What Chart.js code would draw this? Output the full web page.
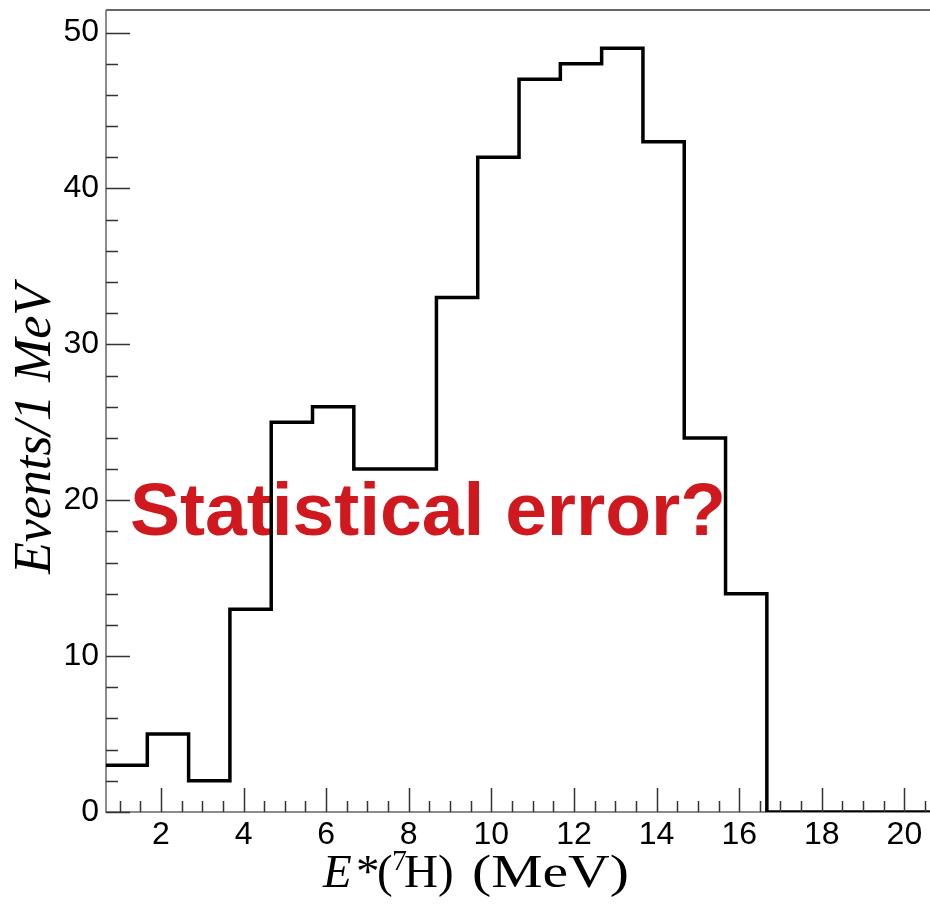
<!DOCTYPE html>
<html>
<head>
<meta charset="utf-8">
<title>E*(7H) spectrum</title>
<script src="https://cdn.jsdelivr.net/npm/chart.js@4.4.1/dist/chart.umd.min.js"></script>
<style>
  html, body { margin: 0; padding: 0; background: #fff; overflow: hidden; }
</style>
</head>
<body>
<canvas id="hist" width="930" height="905"></canvas>
<script>
// bin edges in MeV (1 MeV bins) and event counts per bin
const binEdges = [0.67, 1.67, 2.67, 3.67, 4.67, 5.67, 6.67, 7.67, 8.67, 9.67, 10.67,
                  11.67, 12.67, 13.67, 14.67, 15.67, 16.67, 17.67, 18.67, 19.67, 20.67];
const counts = [3, 5, 2, 13, 25, 26, 22, 22, 33, 42, 47, 48, 49, 43, 24, 14, 0, 0, 0, 0];
const xTickLabels = [2, 4, 6, 8, 10, 12, 14, 16, 18, 20];
const yTickLabels = [0, 10, 20, 30, 40, 50];

const xMin = 0.67, xMax = 20.62;
const yMax = 51.45;

// step points: each bin edge carries the count of the bin starting there
const stepPoints = binEdges.map((e, i) => ({
  x: e,
  y: i < counts.length ? counts[i] : counts[counts.length - 1]
}));

const AXIS_COLOR = '#666';
const TICK_COLOR = '#333';
const SERIF = '"Liberation Serif", "Times New Roman", serif';

// ROOT-like frame: ticks drawn inside the frame, titles in latex-ish fonts
const rootFrame = {
  id: 'rootFrame',
  beforeDatasetsDraw(chart) {
    const ctx = chart.ctx;
    const a = chart.chartArea;
    ctx.save();

    // frame lines (left, bottom, top) under the histogram
    ctx.strokeStyle = AXIS_COLOR;
    ctx.lineWidth = 1.5;
    ctx.beginPath();
    ctx.moveTo(a.left, a.top);
    ctx.lineTo(a.left, a.bottom);
    ctx.lineTo(a.right, a.bottom);
    ctx.stroke();
    ctx.lineWidth = 2;
    ctx.beginPath();
    ctx.moveTo(a.left, a.top);
    ctx.lineTo(a.right, a.top);
    ctx.stroke();

    ctx.font = 'bold 75px "Liberation Sans", Arial, sans-serif';
    ctx.fillStyle = '#d0191f';
    ctx.textAlign = 'left';
    ctx.textBaseline = 'alphabetic';
    ctx.fillText('Statistical error?', 130, 535);
    ctx.restore();
  },
  afterDraw(chart) {
    const ctx = chart.ctx;
    const a = chart.chartArea;
    const xs = chart.scales.x, ys = chart.scales.y;
    ctx.save();

    // x ticks: major every 2, minor every 0.5
    ctx.strokeStyle = TICK_COLOR;
    ctx.lineWidth = 1.5;
    ctx.beginPath();
    for (let v = 0.5; v <= xMax; v += 0.5) {
      if (v < xMin) continue;
      const px = Math.round(xs.getPixelForValue(v)) + 0.5;
      const len = (v % 2 === 0) ? 24 : 11;
      ctx.moveTo(px, a.bottom);
      ctx.lineTo(px, a.bottom - len);
    }
    // y ticks: major every 10, minor every 2
    for (let v = 0; v <= yMax; v += 2) {
      const py = Math.round(ys.getPixelForValue(v)) + 0.5;
      const len = (v % 10 === 0) ? 24 : 12;
      ctx.moveTo(a.left, py);
      ctx.lineTo(a.left + len, py);
    }
    ctx.stroke();

    // x axis title: E*(^7H) (MeV), each piece placed at its own x
    ctx.fillStyle = '#000';
    ctx.textBaseline = 'alphabetic';
    ctx.textAlign = 'left';
    const base = 887;
    const runs = [
      { t: 'E', x: 323, f: 'italic 47px ' + SERIF, dy: 0 },
      { t: '*', x: 356, f: '47px ' + SERIF, dy: 0 },
      { t: '(', x: 377, f: '47px ' + SERIF, dy: 0 },
      { t: '7', x: 392, f: '30px ' + SERIF, dy: -17 },
      { t: 'H)', x: 404, f: '47px ' + SERIF, dy: 0 },
      { t: '(MeV)', x: 472, f: '47px ' + SERIF, dy: 0, w: 157 }
    ];
    runs.forEach(r => {
      ctx.font = r.f;
      if (r.w) {
        // stretch the unit label to its drawn width
        const tw = ctx.measureText(r.t).width;
        ctx.save();
        ctx.translate(r.x, base + r.dy);
        ctx.scale(r.w / tw, 1);
        ctx.fillText(r.t, 0, 0);
        ctx.restore();
      } else {
        ctx.fillText(r.t, r.x, base + r.dy);
      }
    });

    // y axis title
    ctx.translate(50, 429);
    ctx.rotate(-Math.PI / 2);
    ctx.textAlign = 'center';
    ctx.font = 'italic 52px ' + SERIF;
    ctx.fillText('Events/1 MeV', 0, 0);
    ctx.restore();
  }
};

new Chart(document.getElementById('hist'), {
  type: 'line',
  data: {
    datasets: [{
      label: 'E*(7H)',
      data: stepPoints,
      stepped: true,
      borderColor: '#000',
      borderWidth: 3.5,
      pointRadius: 0,
      fill: false
    }]
  },
  options: {
    responsive: false,
    animation: false,
    layout: { padding: { top: 10, left: 0, right: 0, bottom: 0 } },
    plugins: {
      legend: { display: false },
      tooltip: { enabled: false }
    },
    scales: {
      x: {
        type: 'linear',
        min: xMin,
        max: xMax,
        afterBuildTicks: s => { s.ticks = xTickLabels.map(v => ({ value: v })); },
        afterFit: s => { s.height = 93; s.paddingLeft = 0; s.paddingRight = 0; },
        grid: { display: false, drawTicks: false },
        border: { display: false },
        ticks: {
          color: '#000',
          padding: 4,
          maxRotation: 0,
          autoSkip: false,
          font: { family: '"Liberation Sans", Arial, sans-serif', size: 32 }
        }
      },
      y: {
        type: 'linear',
        min: 0,
        max: yMax,
        afterBuildTicks: s => { s.ticks = yTickLabels.map(v => ({ value: v })); },
        afterFit: s => { s.width = 106; s.paddingTop = 0; s.paddingBottom = 0; },
        grid: { display: false, drawTicks: false },
        border: { display: false },
        ticks: {
          color: '#000',
          padding: 7,
          autoSkip: false,
          font: { family: '"Liberation Sans", Arial, sans-serif', size: 32 }
        }
      }
    }
  },
  plugins: [rootFrame]
});
</script>
</body>
</html>
